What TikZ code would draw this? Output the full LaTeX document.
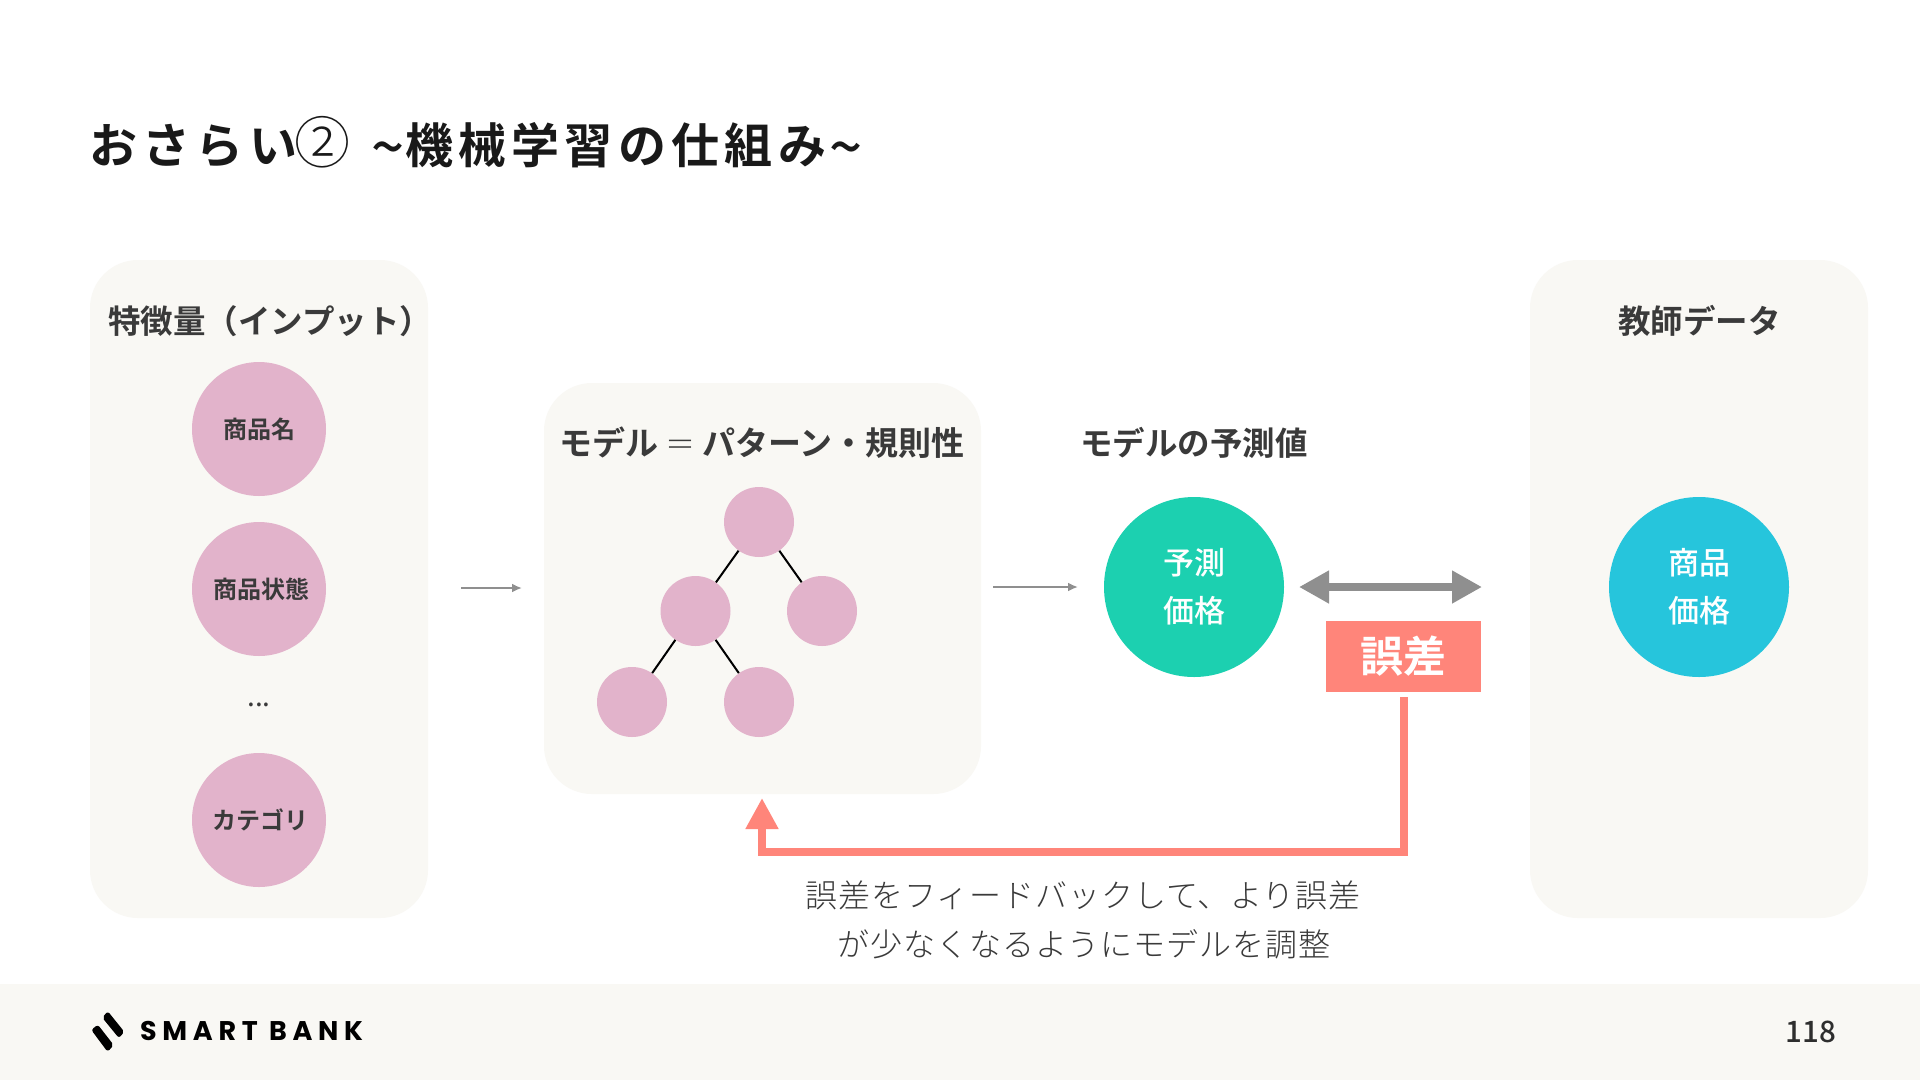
\documentclass[tikz,border=0pt]{standalone}
\usepackage{fontspec}
\setmainfont{Noto Sans CJK JP}[BoldFont={Noto Sans CJK JP Bold}]
\newfontfamily\jpmed{Noto Sans CJK JP Medium}
\newfontfamily\jpbold{Noto Sans CJK JP Bold}
\newfontfamily\jpthin{Noto Sans CJK JP Light}
\newfontfamily\jplight{Noto Sans CJK JP Light}[LetterSpace=2.8]
\newfontfamily\jptitle{Noto Sans CJK JP Bold}[LetterSpace=11]
\newfontfamily\logofont{Poppins Bold}[LetterSpace=21]
\definecolor{panelbg}{HTML}{F9F8F4}
\definecolor{pinkc}{HTML}{E2B3CB}
\definecolor{tealc}{HTML}{1CD0B0}
\definecolor{cyanc}{HTML}{26C5DC}
\definecolor{redc}{HTML}{FF857A}
\definecolor{grayc}{HTML}{8F8F8F}
\definecolor{inkc}{HTML}{3A3A3A}
\newcommand{\fsz}[1]{\fontsize{#1}{#1}\selectfont}
\newcommand{\wave}{\raisebox{-5pt}{\jpmed\fsz{58}\char"7E}}
\usetikzlibrary{arrows.meta}
\tikzset{
  panel/.style={fill=panelbg,draw=none,rounded corners=#1},
  ball/.style={circle,fill=pinkc,draw=none,minimum size=134,inner sep=0,align=center,text=inkc,font=\jpbold\fsz{24}},
  treeball/.style={circle,fill=pinkc,draw=none,minimum size=70,inner sep=0},
  bigball/.style={circle,draw=none,minimum size=180,inner sep=0,align=center,text=white,font=\jpmed\fontsize{31}{48}\selectfont},
  head/.style={text=inkc,font=\jpbold\fsz{32.5},inner sep=0},
  treeedge/.style={draw=black,line width=2},
  thinarrow/.style={draw=grayc,line width=2,-{Latex[length=10,width=9]}},
  logobar/.style={fill=black,draw=black,line width=1.5,line join=round,rounded corners=2},
}
\begin{document}
\begin{tikzpicture}[x=1pt,y=-1pt]
\useasboundingbox (0,0) rectangle (1920,1080);
\fill[white] (0,0) rectangle (1920,1080);
\fill[panelbg] (0,983.5) rectangle (1920,1080);
% panels
\fill[panel=48] (90,260) rectangle (428,918);
\fill[panel=48] (544,383) rectangle (981,794);
\fill[panel=48] (1530,260) rectangle (1868,918);
% title
\node[anchor=west,inner sep=0,text=black!90] (title) at (89,142.5) {\jptitle\fsz{48}おさらい\hspace{-3pt}{\jpthin\fsz{56}②}\hspace{21pt}\wave\hspace{1pt}機械学習の仕組み\hspace{3pt}\wave};
% left
\node[head,anchor=west] (h1) at (108,321) {特徴量（インプット）};
\node[ball] (b1) at (259,429) {商品名};
\node[ball] (b2) at (259,589) {\hspace*{4pt}商品状態};
\node[text=inkc,font=\fsz{28},inner sep=0] (dots) at (259,705) {...};
\node[ball] (b3) at (259,820) {\hspace*{3pt}カテゴリ};
% arrows
\coordinate (a1s) at (461,588);
\coordinate (a1e) at (522,588);
\draw[thinarrow] (a1s) -- (a1e);
\coordinate (a2s) at (993,587);
\coordinate (a2e) at (1078,587);
\draw[thinarrow] (a2s) -- (a2e);
% model
\node[head,font=\jpbold\fsz{33}] (h2) at (762,443) {モデル\hspace{7pt}{\jpthin\fsz{30}＝}\hspace{7pt}パターン・規則性};
\node[treeball] (t1) at (759,522) {};
\node[treeball] (t2) at (695.5,611) {};
\node[treeball] (t3) at (822,611) {};
\node[treeball] (t4) at (632,702) {};
\node[treeball] (t5) at (759,702) {};
\draw[treeedge] (t1) -- (t2);
\draw[treeedge] (t1) -- (t3);
\draw[treeedge] (t2) -- (t4);
\draw[treeedge] (t2) -- (t5);
% prediction
\node[head] (h3) at (1194,443) {モデルの予測値};
\node[bigball,fill=tealc] (pred) at (1194,587) {予測\\価格};
% teacher
\node[head] (h4) at (1699.5,321) {教師データ};
\node[bigball,fill=cyanc] (truth) at (1699,587) {商品\\価格};
% double arrow
\coordinate (dl) at (1299,587);
\coordinate (dr) at (1482,587);
\draw[grayc,line width=8,{Triangle[length=30,width=31]}-{Triangle[length=30,width=31]}] (dl) -- (dr);
% error
\node[fill=redc,minimum width=155,minimum height=71,inner sep=0,text=white,font=\bfseries\fsz{43}] (err) at (1403.5,656.5) {誤差};
\coordinate (fbs) at (1404,697);
\coordinate (fbc1) at (1404,852);
\coordinate (fbc2) at (762,852);
\coordinate (fbe) at (762,798);
\draw[redc,line width=8,-{Triangle[length=31,width=31]}] (fbs) -- (fbc1) -- (fbc2) -- (fbe);
\node[text=inkc,inner sep=0,font=\jplight\fsz{32}] (c1) at (1083,895) {誤差をフィードバックして、より誤差};
\node[text=inkc,inner sep=0,font=\jplight\fsz{32}] (c2) at (1084,944) {が少なくなるようにモデルを調整};
% footer
\filldraw[logobar] (107.7,1012.3) -- (123.3,1031.7) -- (119,1037) -- (103.3,1017.7) -- cycle;
\filldraw[logobar] (97.7,1025.7) -- (112.7,1045) -- (107.7,1050.7) -- (92.3,1030) -- cycle;
\node[anchor=west,inner sep=0,text=black] (logo) at (140,1031) {\logofont\fsz{27}SMART BANK};
\node[text=inkc!80!black,inner sep=0,font=\jpmed\fsz{29.5}] (pg) at (1811,1032) {118};
\end{tikzpicture}
\end{document}
